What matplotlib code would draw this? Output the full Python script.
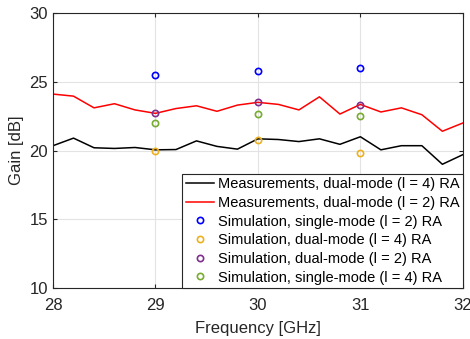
"""Gain vs frequency: measured RA curves with simulated points"""

import matplotlib
matplotlib.use("Agg")
import matplotlib.pyplot as plt

plt.rcParams["font.family"] = ["Liberation Sans", "DejaVu Sans"]

# data
freq_meas = [28.0, 28.2, 28.4, 28.6, 28.8, 29.0, 29.2, 29.4, 29.6, 29.8,
             30.0, 30.2, 30.4, 30.6, 30.8, 31.0, 31.2, 31.4, 31.6, 31.8, 32.0]
gain_l4 = [20.35, 20.9, 20.2, 20.15, 20.22, 20.05, 20.07, 20.7, 20.3, 20.1,
           20.85, 20.8, 20.65, 20.85, 20.45, 21.0, 20.05, 20.35, 20.35, 19.0, 19.7]
gain_l2 = [24.1, 23.95, 23.1, 23.4, 22.95, 22.7, 23.05, 23.25, 22.85, 23.3,
           23.5, 23.35, 22.95, 23.9, 22.65, 23.35, 22.8, 23.1, 22.6, 21.4, 22.0]

freq_sim = [29, 30, 31]
sim_single_l2 = [25.5, 25.8, 26.0]
sim_dual_l4 = [20.0, 20.8, 19.8]
sim_dual_l2 = [22.7, 23.5, 23.3]
sim_single_l4 = [22.0, 22.65, 22.5]

labels = [
    "Measurements, dual-mode (l = 4) RA",
    "Measurements, dual-mode (l = 2) RA",
    "Simulation, single-mode (l = 2) RA",
    "Simulation, dual-mode (l = 4) RA",
    "Simulation, dual-mode (l = 2) RA",
    "Simulation, single-mode (l = 4) RA",
]

fig = plt.figure(figsize=(4.70, 3.39), dpi=100)
ax = fig.add_axes([0.1128, 0.150, 0.872, 0.812])

ax.plot(freq_meas, gain_l4, color="black", lw=1.1, label=labels[0])
ax.plot(freq_meas, gain_l2, color="#ff0000", lw=1.1, label=labels[1])
sim_sets = [
    (sim_single_l2, "#0000ff"),
    (sim_dual_l4, "#edb120"),
    (sim_dual_l2, "#7e2f8e"),
    (sim_single_l4, "#77ac30"),
]
for (vals, col), lab in zip(sim_sets, labels[2:]):
    ax.plot(freq_sim, vals, ls="none", marker="o", ms=4.5, mfc="none",
            mec=col, mew=1.2, label=lab)

ax.set_xlim(28, 32)
ax.set_ylim(10, 30)
ax.set_xticks([28, 29, 30, 31, 32])
ax.set_yticks([10, 15, 20, 25, 30])
ax.grid(True, color="#e3e3e3", lw=0.8)
ax.set_axisbelow(True)
for sp in ax.spines.values():
    sp.set_color("#262626")
    sp.set_linewidth(0.8)
ax.tick_params(direction="in", length=3, labelsize=12, colors="#262626",
               top=True, right=True, labeltop=False, labelright=False)
ax.tick_params(axis="x", pad=7)
ax.set_xlabel("Frequency [GHz]", fontsize=12, color="#262626", labelpad=6)
ax.set_ylabel("Gain [dB]", fontsize=12, color="#262626")

leg = ax.legend(loc="lower right", fontsize=10.5, borderaxespad=0,
                frameon=True, fancybox=False, handlelength=1.9,
                handletextpad=0.27, labelspacing=0.32, borderpad=0.25)
leg.get_frame().set_edgecolor("#262626")
leg.get_frame().set_linewidth(0.8)
leg.get_frame().set_alpha(1)

fig.savefig("out.png", dpi=100)
